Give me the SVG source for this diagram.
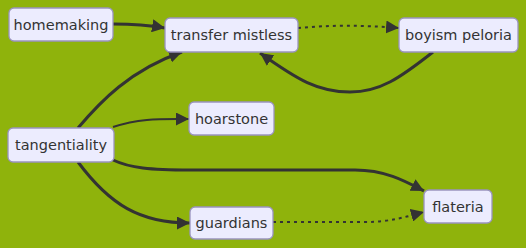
<svg xmlns="http://www.w3.org/2000/svg" width="526" height="248" viewBox="0 0 526 248">
  <style>
    .node rect { fill: #ececfe; stroke: #9a94bf; stroke-width: 1.3; }
    .node text { font-family: "DejaVu Sans", Verdana, sans-serif; font-size: 14.5px; fill: #333333; text-anchor: middle; dominant-baseline: central; }
    .edge { fill: none; stroke: #333333; stroke-width: 3; }
    .dotted { stroke-width: 2; stroke-dasharray: 3 4; }
  </style>
  <defs>
    <marker id="arrow" viewBox="0 0 10 10" refX="10" refY="5" markerUnits="userSpaceOnUse" markerWidth="13" markerHeight="13" orient="auto">
      <path d="M0,0 L10,5 L0,10 z" fill="#333333"/>
    </marker>
  </defs>
  <rect width="526" height="248" fill="#8fb30c"/>

  <g id="edges">
    <path class="edge" d="M113,24 C135,24 148,25 165,28" marker-end="url(#arrow)"/>
    <path class="edge" d="M78,128 C100,102 130,70 182,52" marker-end="url(#arrow)"/>
    <path class="edge" d="M433,52 C400,78 380,92 350,92 C318,92 298,80 260,53" marker-end="url(#arrow)"/>
    <path class="edge dotted" d="M298,28 C330,25 362,25 399,28" marker-end="url(#arrow)"/>
    <path class="edge" d="M113,127 C140,118 160,119 189,119" marker-end="url(#arrow)" style="stroke-width:2"/>
    <path class="edge" d="M113,160 C130,168 150,170 190,170 L355,170 C385,170 405,181 424,191" marker-end="url(#arrow)"/>
    <path class="edge" d="M78,162 C110,205 140,223 190,223" marker-end="url(#arrow)"/>
    <path class="edge dotted" d="M273,222 L365,222 C390,222 405,217 424,212" marker-end="url(#arrow)"/>
  </g>

  <g id="homemaking" class="node">
    <rect x="9" y="8" width="104" height="33" rx="5"/>
    <text x="61" y="24.5">homemaking</text>
  </g>
  <g id="transfer-mistless" class="node">
    <rect x="165" y="18" width="133" height="34" rx="5"/>
    <text x="231.5" y="35">transfer mistless</text>
  </g>
  <g id="boyism-peloria" class="node">
    <rect x="399" y="18" width="119" height="34" rx="5"/>
    <text x="458.5" y="35">boyism peloria</text>
  </g>
  <g id="tangentiality" class="node">
    <rect x="8" y="128" width="106" height="34" rx="5"/>
    <text x="61" y="145">tangentiality</text>
  </g>
  <g id="hoarstone" class="node">
    <rect x="189" y="102" width="85" height="33" rx="5"/>
    <text x="231.5" y="118.5">hoarstone</text>
  </g>
  <g id="guardians" class="node">
    <rect x="190" y="207" width="83" height="32" rx="5"/>
    <text x="231.5" y="223">guardians</text>
  </g>
  <g id="flateria" class="node">
    <rect x="424" y="190" width="68" height="33" rx="5"/>
    <text x="458" y="206.5">flateria</text>
  </g>
</svg>
